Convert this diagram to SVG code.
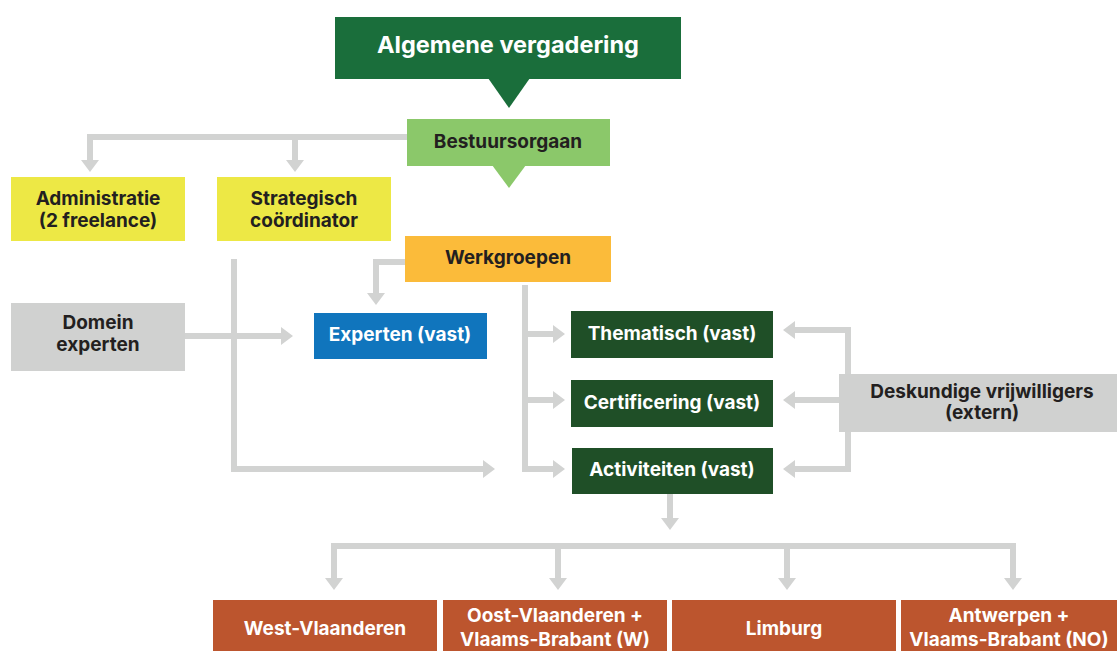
<svg xmlns="http://www.w3.org/2000/svg" width="1117" height="651" viewBox="0 0 1117 651">
<defs>
<marker id="ah" markerUnits="userSpaceOnUse" markerWidth="13" markerHeight="18" refX="0" refY="9" orient="auto">
<path d="M0,0 L12,9 L0,18 z" fill="#d2d3d2"/>
</marker>
</defs>
<style>
.t{font-family:Inter,Roboto,"Liberation Sans",sans-serif;font-weight:700;text-anchor:middle;font-size:19px}
.dk{fill:#231f20}
.wh{fill:#ffffff}
.c{fill:none;stroke:#d2d3d2;stroke-width:6;marker-end:url(#ah)}
.cn{fill:none;stroke:#d2d3d2;stroke-width:6}
</style>
<rect width="1117" height="651" fill="#ffffff"/>
<g id="connectors">
<path class="cn" d="M407,137 H90"/>
<path class="c" d="M90,134 V160"/>
<path class="c" d="M295,137 V160"/>
<path class="c" d="M405,262 H376 V293"/>
<path class="c" d="M185,336 H281"/>
<path class="c" d="M234,259 V469 H483"/>
<path class="cn" d="M525,285 V469"/>
<path class="c" d="M522,334 H553"/>
<path class="c" d="M522,400 H553"/>
<path class="c" d="M522,469 H553"/>
<path class="cn" d="M848,327 V472"/>
<path class="c" d="M851,330 H795"/>
<path class="c" d="M839,400 H795"/>
<path class="c" d="M851,469 H795"/>
<path class="c" d="M670,494 V518"/>
<path class="cn" d="M334,546 H1016"/>
<path class="c" d="M334,543 V578"/>
<path class="c" d="M558,546 V578"/>
<path class="c" d="M787,546 V578"/>
<path class="c" d="M1013,543 V578"/>
</g>
<g id="algemene-vergadering">
<rect x="335" y="17" width="346" height="62" fill="#1a6e3b"/>
<polygon points="488,78 530,78 509,108" fill="#1a6e3b"/>
<text class="t wh" x="508" y="53" style="font-size:23.5px">Algemene vergadering</text>
</g>
<g id="bestuursorgaan">
<rect x="407" y="119" width="203" height="47" fill="#8bc86a"/>
<polygon points="492,165 526,165 509,188" fill="#8bc86a"/>
<text class="t dk" x="508" y="148">Bestuursorgaan</text>
</g>
<g id="administratie">
<rect x="11" y="177" width="174" height="64" fill="#ede845"/>
<text class="t dk" x="98" y="205">Administratie</text>
<text class="t dk" x="98" y="227">(2 freelance)</text>
</g>
<g id="strategisch-coordinator">
<rect x="217" y="177" width="174" height="64" fill="#ede845"/>
<text class="t dk" x="304" y="205">Strategisch</text>
<text class="t dk" x="304" y="227">coördinator</text>
</g>
<g id="werkgroepen">
<rect x="405" y="236" width="206" height="46" fill="#fbbb3a"/>
<text class="t dk" x="508" y="264">Werkgroepen</text>
</g>
<g id="domein-experten">
<rect x="11" y="303" width="174" height="68" fill="#d0d1d0"/>
<text class="t dk" x="98" y="329">Domein</text>
<text class="t dk" x="98" y="351">experten</text>
</g>
<g id="experten-vast">
<rect x="314" y="313" width="173" height="46" fill="#1075bd"/>
<text class="t wh" x="400" y="341">Experten (vast)</text>
</g>
<g id="thematisch">
<rect x="571" y="311" width="202" height="47" fill="#1f4f27"/>
<text class="t wh" x="672" y="340">Thematisch (vast)</text>
</g>
<g id="certificering">
<rect x="571" y="380" width="202" height="47" fill="#1f4f27"/>
<text class="t wh" x="672" y="409">Certificering (vast)</text>
</g>
<g id="activiteiten">
<rect x="572" y="448" width="201" height="46" fill="#1f4f27"/>
<text class="t wh" x="672" y="476">Activiteiten (vast)</text>
</g>
<g id="deskundige-vrijwilligers">
<rect x="839" y="374" width="278" height="58" fill="#d0d1d0"/>
<text class="t dk" x="982" y="398">Deskundige vrijwilligers</text>
<text class="t dk" x="982" y="419">(extern)</text>
</g>
<g id="west-vlaanderen">
<rect x="213" y="600" width="224" height="51" fill="#bc552e"/>
<text class="t wh" x="325" y="635">West-Vlaanderen</text>
</g>
<g id="oost-vlaanderen">
<rect x="443" y="600" width="224" height="51" fill="#bc552e"/>
<text class="t wh" x="555" y="622">Oost-Vlaanderen +</text>
<text class="t wh" x="555" y="646">Vlaams-Brabant (W)</text>
</g>
<g id="limburg">
<rect x="672" y="600" width="224" height="51" fill="#bc552e"/>
<text class="t wh" x="784" y="635">Limburg</text>
</g>
<g id="antwerpen">
<rect x="901" y="600" width="216" height="51" fill="#bc552e"/>
<text class="t wh" x="1009" y="622">Antwerpen +</text>
<text class="t wh" x="1009" y="646">Vlaams-Brabant (NO)</text>
</g>
</svg>
